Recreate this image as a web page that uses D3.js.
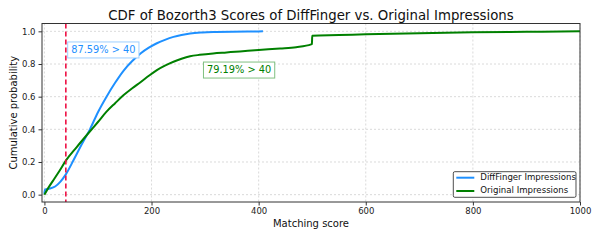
<!DOCTYPE html>
<html>
<head>
<meta charset="utf-8">
<script src="https://cdn.jsdelivr.net/npm/d3@7"></script>
<style>
  body { margin: 0; background: #fff; }
  svg { font-family: "DejaVu Sans", sans-serif; }
</style>
</head>
<body>
<div id="chart"></div>
<script>
// DiffFinger impressions CDF
var blueScore = [0, 1, 10, 20, 30, 40, 55, 70, 85, 100, 116, 132, 148, 164, 180, 195, 210, 225, 241, 256, 272, 295, 320, 350, 380, 408];
var blueCdf = [0.005, 0.03, 0.037, 0.05, 0.08, 0.124, 0.215, 0.31, 0.40, 0.505, 0.60, 0.685, 0.76, 0.818, 0.866, 0.9, 0.927, 0.948, 0.966, 0.978, 0.987, 0.993, 0.996, 0.998, 0.999, 1.0];

// Original impressions CDF
var greenScore = [0, 7, 17, 28, 40, 60, 82, 100, 116, 132, 148, 164, 180, 195, 210, 225, 241, 256, 272, 290, 315, 340, 365, 400, 440, 470, 498, 499.5, 500, 550, 600, 700, 800, 900, 1000];
var greenCdf = [0, 0.04, 0.09, 0.145, 0.208, 0.29, 0.376, 0.445, 0.508, 0.56, 0.61, 0.652, 0.69, 0.728, 0.763, 0.79, 0.814, 0.832, 0.847, 0.856, 0.865, 0.871, 0.877, 0.886, 0.895, 0.903, 0.92, 0.922, 0.973, 0.977, 0.982, 0.989, 0.994, 0.997, 1.0];

var xTicks = [0, 200, 400, 600, 800, 1000];
var yTicks = [0.0, 0.2, 0.4, 0.6, 0.8, 1.0];
var threshold = 40;
var seriesNames = ["DiffFinger Impressions", "Original Impressions"];
var annotations = ["87.59% > 40", "79.19% > 40"];

var W = 600, H = 240;
var margin = { left: 42, right: 20, top: 23.5, bottom: 38 };
var width = W - margin.left - margin.right;
var height = H - margin.top - margin.bottom;

var svg = d3.select("#chart").append("svg")
    .attr("width", W)
    .attr("height", H);

var g = svg.append("g")
    .attr("transform", "translate(" + margin.left + "," + margin.top + ")");

var x = d3.scaleLinear().domain([-4.5, 1000]).range([0, width]);
var y = d3.scaleLinear().domain([-0.045, 1.048]).range([height, 0]);

// grid
g.append("g").selectAll("line").data(xTicks).enter().append("line")
    .attr("x1", function (d) { return x(d); })
    .attr("x2", function (d) { return x(d); })
    .attr("y1", 0).attr("y2", height)
    .attr("stroke", "#d0d0d0").attr("stroke-width", 0.8)
    .attr("stroke-dasharray", "2,2");
g.append("g").selectAll("line").data(yTicks).enter().append("line")
    .attr("y1", function (d) { return y(d); })
    .attr("y2", function (d) { return y(d); })
    .attr("x1", 0).attr("x2", width)
    .attr("stroke", "#d0d0d0").attr("stroke-width", 0.8)
    .attr("stroke-dasharray", "2,2");

// axes
var xAxis = g.append("g")
    .attr("transform", "translate(0," + height + ")")
    .call(d3.axisBottom(x).tickValues(xTicks).tickSize(3.5).tickPadding(2.5).tickFormat(d3.format("d")));
var yAxis = g.append("g")
    .call(d3.axisLeft(y).tickValues(yTicks).tickSize(3.5).tickPadding(3).tickFormat(d3.format(".1f")));
[xAxis, yAxis].forEach(function (a) {
    a.select(".domain").remove();
    a.selectAll("line").attr("stroke", "#333");
    a.selectAll("text").attr("font-size", "8.5px").attr("fill", "#222")
        .attr("font-family", "DejaVu Sans");
});

// lines
var blueLine = d3.line()
    .x(function (d, i) { return x(blueScore[i]); })
    .y(function (d) { return y(d); })
    .curve(d3.curveMonotoneX);
var greenLine = d3.line()
    .x(function (d, i) { return x(greenScore[i]); })
    .y(function (d) { return y(d); })
    .curve(d3.curveMonotoneX);

g.append("path").datum(blueCdf)
    .attr("d", blueLine)
    .attr("fill", "none").attr("stroke", "#1E90FF").attr("stroke-width", 2);
g.append("path").datum(greenCdf)
    .attr("d", greenLine)
    .attr("fill", "none").attr("stroke", "#008000").attr("stroke-width", 2);

// threshold
g.append("line")
    .attr("x1", x(threshold)).attr("x2", x(threshold))
    .attr("y1", 0).attr("y2", height)
    .attr("stroke", "#EE1144").attr("stroke-width", 1.6)
    .attr("stroke-dasharray", "5,3");

// annotation boxes
function annot(text, px, py, color, edge) {
    var grp = g.append("g");
    var t = grp.append("text")
        .attr("x", px).attr("y", py)
        .attr("font-size", "9.8px").attr("fill", color)
        .attr("dominant-baseline", "middle")
        .text(text);
    var bb = t.node().getBBox();
    grp.insert("rect", "text")
        .attr("x", bb.x - 3.5).attr("y", py - 8)
        .attr("width", bb.width + 7).attr("height", 16)
        .attr("fill", "#fff").attr("stroke", edge).attr("stroke-width", 1);
}
annot(annotations[0], x(50), y(0.886), "#1E90FF", "#9fcfff");
annot(annotations[1], x(303.5), y(0.763), "#008000", "#80c080");

// frame
g.append("rect")
    .attr("width", width).attr("height", height)
    .attr("fill", "none").attr("stroke", "#333").attr("stroke-width", 1);

// title & labels
svg.append("text")
    .attr("x", margin.left + width / 2).attr("y", 19.5)
    .attr("text-anchor", "middle").attr("font-size", "13.3px").attr("fill", "#111")
    .text("CDF of Bozorth3 Scores of DiffFinger vs. Original Impressions");
svg.append("text")
    .attr("x", margin.left + width / 2).attr("y", 226.5)
    .attr("text-anchor", "middle").attr("font-size", "10px").attr("fill", "#111")
    .text("Matching score");
svg.append("text")
    .attr("transform", "translate(17," + (margin.top + height / 2) + ") rotate(-90)")
    .attr("text-anchor", "middle").attr("font-size", "10px").attr("fill", "#111")
    .text("Cumulative probability");

// legend
var lg = g.append("g").attr("transform", "translate(" + (453.3 - margin.left) + "," + (171.7 - margin.top) + ")");
lg.append("rect")
    .attr("width", 122.7).attr("height", 25.6)
    .attr("fill", "#fff").attr("stroke", "#222").attr("stroke-width", 0.8).attr("rx", 1.5);
var colors = ["#1E90FF", "#008000"];
seriesNames.forEach(function (name, i) {
    var yy = 6 + i * 13.3;
    lg.append("line")
        .attr("x1", 3).attr("x2", 21).attr("y1", yy).attr("y2", yy)
        .attr("stroke", colors[i]).attr("stroke-width", 2);
    lg.append("text")
        .attr("x", 27).attr("y", yy)
        .attr("dominant-baseline", "middle")
        .attr("font-size", "8.6px").attr("fill", "#111")
        .text(name);
});
</script>
</body>
</html>
